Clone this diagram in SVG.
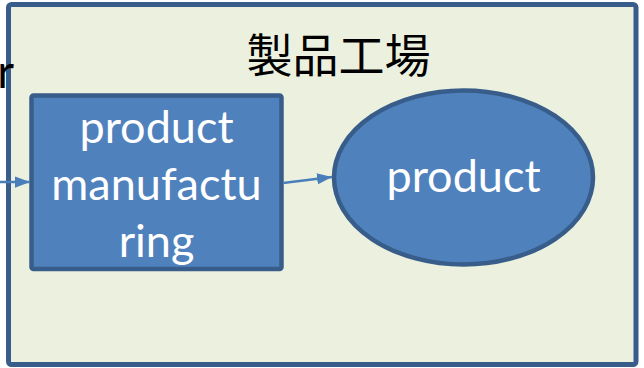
<svg xmlns="http://www.w3.org/2000/svg" width="644" height="368" viewBox="0 0 644 368">
<defs>
<style>
.frame{fill:#EBF1DE;stroke:#385D8A;stroke-width:5}
.node{fill:#4F81BD;stroke:#385D8A;stroke-width:4.5}
.lbl{font-family:Lato,"Open Sans",sans-serif;font-size:45px;fill:#FFFFFF;text-anchor:middle}
.title{font-family:"Noto Sans CJK JP","Noto Sans CJK SC",sans-serif;font-size:46px;fill:#000000;text-anchor:middle}
.edge{stroke:#4A7EBB;stroke-width:2.5;fill:none;marker-end:url(#arr)}
</style>
<marker id="arr" viewBox="0 0 10 10" refX="10" refY="5" markerWidth="6" markerHeight="4.5" orient="auto" markerUnits="strokeWidth" preserveAspectRatio="none">
<path d="M0,0 L10,5 L0,10 Z" fill="#4A7EBB"/>
</marker>
</defs>
<g id="factory">
<rect class="frame" x="8.5" y="4.5" width="627.5" height="360" rx="3"/>
<text class="title" x="338.5" y="72">製品工場</text>
</g>
<text x="14" y="88" font-family="Lato,'Open Sans',sans-serif" font-size="46" fill="#000000" text-anchor="end">r</text>
<g id="manufacturing">
<rect class="node" x="31.5" y="95.5" width="250" height="173.5" rx="2"/>
<text class="lbl" x="156.5" y="143">product</text>
<text class="lbl" x="156.5" y="200">manufactu</text>
<text class="lbl" x="156.5" y="257">ring</text>
</g>
<g id="product">
<ellipse class="node" cx="463.5" cy="177.5" rx="129.5" ry="87"/>
<text class="lbl" x="463.5" y="192">product</text>
</g>
<g id="connectors">
<line class="edge" x1="0" y1="182" x2="30" y2="182"/>
<line class="edge" x1="283" y1="183" x2="332" y2="177"/>
</g>
</svg>
